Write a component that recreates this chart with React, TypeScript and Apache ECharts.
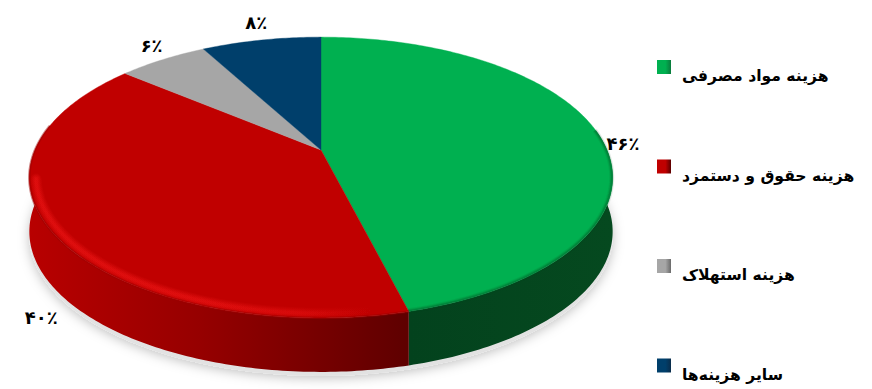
import React, { useEffect, useRef } from "react";
import * as echarts from "echarts";

const categories = ["هزینه مواد مصرفی", "هزینه حقوق و دستمزد", "هزینه استهلاک", "سایر هزینه‌ها"];
const values = [46, 40, 6, 8];
const valueLabels = ["۴۶٪", "۴۰٪", "۶٪", "۸٪"];

const topColors = ["#00b050", "#c00000", "#a6a6a6", "#003f6b"];
const legendEdge = ["#0a7a3c", "#5a0000", "#6a6a6a", "#0a2c4a"];
const sideStops = [
  [[0, "#03421d"], [1, "#05491f"]],
  [[0, "#b80000"], [0.45, "#960000"], [1, "#5e0000"]],
  [[0, "#666"], [1, "#666"]],
  [[0, "#02253f"], [1, "#02253f"]],
];
const labelTargets = [[25, 10], [-10, 87], [-11, -14], [-5, -18]];

const CX = 321, CY = 150, A = 286, B = 135, K = 0.196, DEPTH = 54;
const FONT = '"DejaVu Sans", sans-serif';

function project(theta: number, r = 1, dy = 0) {
  const s = Math.sin(theta) * r;
  const c = -Math.cos(theta) * r;
  const d = 1 - K * c;
  return [CX + (A * s) / d, CY + (B * c) / d + dy];
}
function arc(t0: number, t1: number, r = 1, dy = 0) {
  const n = Math.max(2, Math.ceil(Math.abs(t1 - t0) / 0.015));
  const pts: number[][] = [];
  for (let i = 0; i <= n; i++) pts.push(project(t0 + ((t1 - t0) * i) / n, r, dy));
  return pts;
}
const total = values.reduce((a, b) => a + b, 0);
function angles(i: number) {
  const before = values.slice(0, i).reduce((a, b) => a + b, 0);
  return [(before / total) * Math.PI * 2, ((before + values[i]) / total) * Math.PI * 2];
}
const FRONT0 = 1.42;
const FRONT1 = 4.9;

function renderSlice(i: number) {
  return () => {
    const [t0, t1] = angles(i);
    const children: any[] = [];
    const a0 = Math.max(t0, FRONT0);
    const a1 = Math.min(t1, FRONT1);
    if (a1 > a0) {
      children.push({
        type: "polygon",
        z2: 1,
        shape: { points: arc(a0, a1).concat(arc(a1, a0, 1, DEPTH)) },
        style: {
          fill: new echarts.graphic.LinearGradient(
            0, 0, 1, 0,
            sideStops[i].map(([offset, color]: any) => ({ offset, color }))
          ),
        },
      });
    }
    children.push({
      type: "polygon",
      z2: 2,
      shape: { points: [[CX, CY]].concat(arc(t0, t1)) },
      style: { fill: topColors[i], stroke: topColors[i], lineWidth: 0.4 },
    });
    if (i === 1) {
      const glow = new echarts.graphic.LinearGradient(1, 0, 0, 0, [
        { offset: 0, color: "rgba(245,24,24,0)" },
        { offset: 0.22, color: "rgba(245,24,24,0.7)" },
        { offset: 0.5, color: "#f51818" },
        { offset: 1, color: "#f51818" },
      ]);
      [[11, 0.1], [9, 0.12], [7, 0.14], [5, 0.16], [3, 0.2]].forEach(([w, o], k) => {
        children.push({
          type: "polyline",
          z2: 3 + k,
          shape: { points: arc(t0 + 0.1, 4.5, 0.978) },
          style: { fill: "none", stroke: glow, lineWidth: w, opacity: o, lineCap: "round" },
        });
      });
      children.push({
        type: "polyline",
        z2: 9,
        shape: { points: arc(t0, a1, 1) },
        style: { fill: "none", stroke: "#9a0000", lineWidth: 2.5, opacity: 0.45 },
      });
    }
    if (i === 0) {
      [[5, 0.1], [3, 0.16], [1.5, 0.22]].forEach(([w, o], k) => {
        children.push({
          type: "polyline",
          z2: 3 + k,
          shape: { points: arc(a0, a1, 0.997) },
          style: { fill: "none", stroke: "#014a22", lineWidth: w, opacity: o },
        });
      });
    }
    const [mx, my] = project((t0 + t1) / 2);
    children.push({
      type: "text",
      z2: 10,
      x: mx + labelTargets[i][0],
      y: my + labelTargets[i][1],
      style: {
        text: valueLabels[i],
        font: `bold 18px ${FONT}`,
        fill: "#000",
        align: "center",
        verticalAlign: "middle",
      },
    });
    return { type: "group", children };
  };
}

function renderShadow() {
  return {
    type: "polygon",
    shape: { points: arc(1.2, 5.1, 1, DEPTH + 4) },
    style: {
      fill: "#e2e2e2",
      shadowBlur: 12,
      shadowColor: "rgba(0,0,0,0.25)",
      shadowOffsetX: 0,
      shadowOffsetY: 2,
    },
  };
}

function legendGradient(i: number) {
  return new echarts.graphic.LinearGradient(0, 0, 1, 0, [
    { offset: 0, color: topColors[i] },
    { offset: 0.6, color: topColors[i] },
    { offset: 1, color: legendEdge[i] },
  ]);
}

export default function App() {
  const ref = useRef<HTMLDivElement>(null);
  useEffect(() => {
    const chart = echarts.init(ref.current!, undefined, { renderer: "svg" });
    chart.setOption({
      animation: false,
      backgroundColor: "#fff",
      legend: {
        orient: "vertical",
        left: 652,
        top: 55,
        itemWidth: 14,
        itemHeight: 14,
        itemGap: 75.5,
        selectedMode: false,
        data: categories.map((name, i) => ({
          name,
          icon: "rect",
          itemStyle: { color: legendGradient(i) },
        })),
        formatter: (name: string) => `{t|${name}}`,
        textStyle: {
          rich: {
            t: {
              fontFamily: FONT,
              fontWeight: "bold",
              fontSize: 15.6,
              color: "#000",
              padding: [18, 0, 0, 6],
            },
          },
        },
      },
      series: [
        {
          type: "custom",
          name: "shadow",
          coordinateSystem: "none",
          silent: true,
          renderItem: renderShadow,
          data: [[0]],
        },
        ...categories.map((name, i) => ({
          type: "custom",
          name,
          coordinateSystem: "none",
          silent: true,
          itemStyle: { color: topColors[i] },
          renderItem: renderSlice(i),
          data: [[values[i]]],
        })),
      ],
    });
    return () => chart.dispose();
  }, []);
  return <div ref={ref} style={{ position: "fixed", left: 0, top: 0, width: 872, height: 389 }} />;
}
